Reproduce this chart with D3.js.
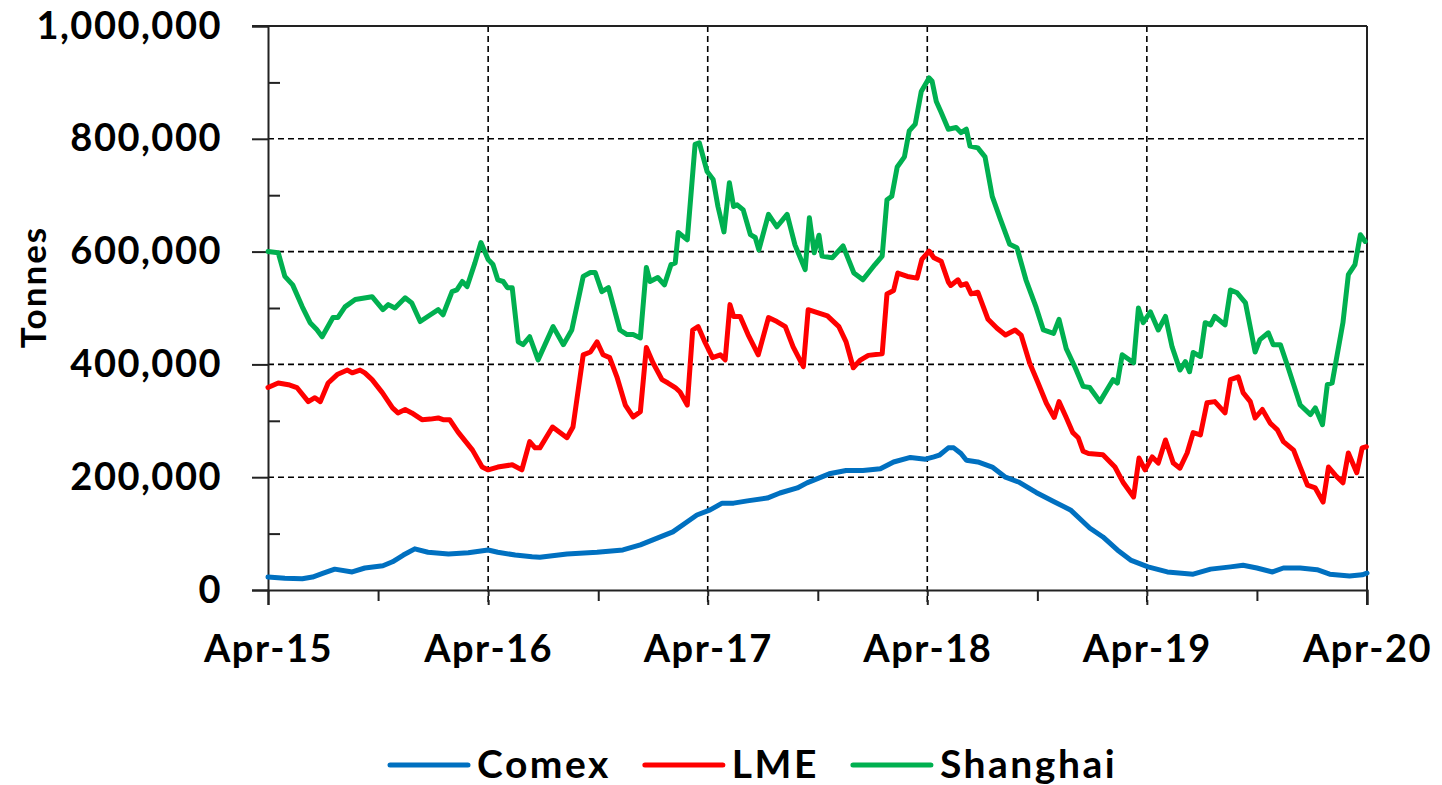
<!DOCTYPE html>
<html>
<head>
  <meta charset="utf-8">
  <title>Copper stocks - Comex, LME, Shanghai</title>
  <script src="https://d3js.org/d3.v7.min.js"></script>
  <style>
    body { margin: 0; background: #fff; }
    text { font-family: Lato, "Open Sans", sans-serif; font-weight: bold; fill: #000; }
  </style>
</head>
<body>
  <script>
    // weekly positions counted from 1 Apr 2015, tonnes in thousands
    const startDate = new Date(2015, 3, 1);
    const endDate = new Date(2020, 3, 1);

    const comexWeek = [0, 4, 8.1, 10.5, 13.1, 15.9, 20, 23, 27.3, 29.5, 32.1, 34.9, 38, 42.8, 47.5, 52.3, 54.6, 58.7, 62.7, 64.6,
      71, 78.1, 84.3, 88.4, 92.4, 96.2, 99.5, 101.9, 105, 107.8, 110.5, 113.8, 118.5, 121.6, 125.7, 128,
      133.3, 137.3, 141.3, 145.4, 148.5, 152.5, 156.1, 158.2, 159.4, 161.5, 162.9, 164.6, 165.8, 168.6, 172, 175.1,
      178.4, 182.4, 186.5, 190.5, 193.6, 195.2, 198.3, 201.7, 204.8, 209, 213.5, 219.7, 223.8, 228.5, 231.6, 234.9,
      238.5, 241.1, 245.1, 249.1, 252.2, 256.9, 259.8, 261];
    const comexK = [23, 21, 20, 23, 30, 37, 32, 39, 43, 50, 62, 73, 67, 64, 66, 71, 67, 62, 59, 58,
      64, 67, 71, 80, 92, 103, 121, 133, 142, 154, 154, 158, 163, 172, 181, 190,
      206, 212, 212, 215, 227, 235, 232, 236, 239, 252, 252, 242, 230, 227, 218, 200,
      191, 173, 157, 142, 121, 110, 94, 71, 53, 41, 32, 28, 37, 41, 44, 39,
      32, 39, 39, 36, 28, 25, 27, 30];

    const lmeWeek = [0, 2.4, 4.8, 6.9, 9.5, 11.2, 12.4, 14.3, 16.4, 18.8, 20, 21.9, 23, 24.7, 27.1, 29.5, 30.9, 32.5, 34.2, 36.6,
      38.5, 40.4, 41.6, 43.2, 45.1, 48.5, 50.8, 52.3, 54.6, 58, 60.3, 62.2, 63.4, 64.6, 67.5, 71, 72.4, 74.8,
      76.5, 78.1, 79.6, 81.2, 82.9, 84.8, 86.7, 88.4, 89.8, 91.4, 93.6, 95, 96.7, 97.9, 99.5, 100.9, 102.1, 103.8,
      105.5, 107.4, 108.6, 109.7, 110.5, 112.1, 114, 116.4, 118.8, 120.9, 122.8, 124.7, 127.1, 128.3, 132.8, 135.6,
      137.3, 139, 140.6, 142.5, 145.8, 147, 148.5, 149.6, 151.8, 154.2, 155.3, 157, 158.2, 159.9, 161.5, 162.2,
      163.9, 164.6, 165.8, 167, 168.6, 171, 173.2, 175.1, 177.4, 178.9, 180.8, 182.7, 184.8, 186.7, 187.9, 189.5,
      191.2, 192.4, 193.6, 194.8, 198.3, 201.2, 203.1, 205.5, 206.9, 208.3, 210, 211.4, 213.1, 215, 216.6, 218.3,
      219.7, 221.4, 223, 224.9, 227.3, 228.5, 230.4, 231.6, 233.3, 234.4, 236.1, 238, 239.7, 241.1, 243.5, 245.1,
      246.8, 248.7, 250.6, 251.8, 253.4, 255.3, 256.5, 258.6, 259.8, 260.8];
    const lmeK = [359, 367, 364, 359, 334, 341, 334, 367, 382, 390, 385, 390, 385, 373, 350, 323, 314, 320, 314, 302,
      303, 305, 302, 302, 280, 248, 218, 213, 218, 222, 213, 263, 252, 252, 289, 270, 289, 417,
      422, 440, 417, 412, 378, 328, 307, 316, 430, 403, 373, 367, 359, 351, 328, 461, 467, 438,
      412, 417, 408, 506, 485, 485, 453, 417, 483, 476, 467, 431, 396, 497, 486, 467,
      440, 394, 407, 416, 419, 525, 531, 562, 556, 553, 586, 601, 589, 583, 546, 540,
      550, 540, 543, 525, 528, 480, 464, 452, 461, 452, 403, 370, 331, 306, 334, 306,
      279, 270, 246, 242, 240, 218, 190, 165, 234, 213, 236, 225, 266, 225, 216, 243,
      279, 275, 332, 334, 314, 373, 378, 350, 334, 305, 320, 296, 284, 263, 248, 218,
      186, 181, 156, 218, 204, 190, 243, 208, 252, 254];

    const shanghaiWeek = [0, 2.4, 4, 5.9, 8.1, 10, 11.6, 12.8, 15.4, 16.6, 18.3, 20.7, 24.7, 27.3, 28.5, 30.2, 32.5, 34.2, 36.1,
      38.5, 40.4, 41.6, 43.7, 44.9, 46.1, 47.3, 49.2, 50.6, 52.3, 53.4, 54.6, 55.8, 56.8, 58, 59.4, 60.6, 62.2, 64.1,
      67.7, 70.1, 72.2, 74.8, 76.5, 77.7, 79.3, 80.8, 83.6, 85.3, 86.7, 88.4, 89.8, 90.7, 92.6, 94.1, 95.7, 96.7,
      97.4, 98.6, 99.5, 101.4, 102.4, 104.3, 105.7, 106.9, 108.3, 109.5, 110.5, 111.4, 112.8, 114.5, 115.7, 116.6,
      118.8, 120.9, 123.3, 125.2, 127.6, 128.5, 129.7, 130.9, 131.6, 134, 136.6, 139.2, 141.3, 144.2, 145.8, 147,
      148.2, 149.4, 151.1, 152.3, 153.7, 155.1, 157, 157.7, 158.7, 159.9, 161.5, 163.4, 164.6, 165.8, 166.7, 168.6,
      170.3, 172, 173.9, 176.2, 177.9, 180, 182.4, 184.1, 186.5, 187.9, 189.5, 191.7, 193.6, 195.2, 197.6, 199.5,
      200.7, 201.7, 202.9, 205.5, 206.7, 207.8, 209.5, 211.4, 213.1, 214.7, 216.6, 217.8, 218.8, 219.7, 221.4, 222.6,
      223.8, 224.9, 227.3, 228.5, 230.2, 232.1, 234.4, 235.6, 237.5, 238.7, 240.4, 242.3, 245.1, 247.5, 248.7, 250.4,
      251.5, 252.7, 255.3, 256.5, 258.2, 259.4, 260.6];
    const shanghaiK = [600, 598, 556, 541, 502, 474, 462, 449, 483, 483, 502, 515, 520, 497, 506, 500, 518, 509, 476,
      488, 497, 488, 529, 532, 547, 538, 580, 616, 586, 577, 550, 547, 536, 536, 440, 435, 449, 408,
      467, 435, 461, 556, 563, 563, 529, 536, 461, 453, 453, 447, 572, 547, 554, 541, 577, 580,
      634, 627, 621, 790, 793, 742, 728, 680, 635, 722, 680, 683, 674, 630, 625, 603,
      666, 644, 666, 612, 568, 660, 598, 629, 592, 589, 610, 562, 550, 577, 592, 692,
      698, 750, 768, 814, 826, 884, 908, 902, 866, 847, 817, 820, 811, 817, 787, 784,
      768, 698, 659, 613, 607, 550, 501, 461, 455, 480, 428, 394, 361, 359, 334, 359,
      373, 367, 417, 403, 500, 474, 493, 461, 485, 431, 390, 405, 387, 421, 414, 474,
      470, 485, 470, 532, 527, 509, 422, 444, 456, 435, 435, 394, 328, 311, 323, 293,
      364, 367, 474, 559, 577, 630, 618];

    const seriesNames = ["Comex", "LME", "Shanghai"];
    const seriesColors = ["#0070C0", "#FF0000", "#00B050"];
    const yTicks = [0, 200000, 400000, 600000, 800000, 1000000];
    const yMinorTicks = [100000, 300000, 500000, 700000, 900000];
    const xTickLabels = ["Apr-15", "Apr-16", "Apr-17", "Apr-18", "Apr-19", "Apr-20"];

    const W = 1442, H = 785;
    const plotL = 268, plotR = 1367, plotT = 26, plotB = 590;

    const svg = d3.select("body").append("svg")
      .attr("width", W)
      .attr("height", H);

    const x = d3.scaleTime().domain([startDate, endDate]).range([plotL, plotR]);
    const y = d3.scaleLinear().domain([0, 1000000]).range([plotB, plotT]);

    const toDate = w => d3.timeDay.offset(startDate, Math.round(w * 7));
    const build = (weeks, vals) => weeks.map((w, i) => ({ date: toDate(w), value: vals[i] * 1000 }));
    const series = [build(comexWeek, comexK), build(lmeWeek, lmeK), build(shanghaiWeek, shanghaiK)];

    const yearTicks = xTickLabels.map((d, i) => d3.timeMonth.offset(startDate, 12 * i));
    const halfTicks = d3.range(5).map(i => d3.timeMonth.offset(startDate, 12 * i + 6));

    // grid
    svg.append("g").selectAll("line")
      .data(yTicks.slice(1, -1))
      .join("line")
      .attr("x1", plotL).attr("x2", plotR)
      .attr("y1", d => y(d)).attr("y2", d => y(d))
      .attr("stroke", "#000").attr("stroke-width", 1.6)
      .attr("stroke-dasharray", "6,4");

    svg.append("g").selectAll("line")
      .data(yearTicks.slice(1, -1))
      .join("line")
      .attr("x1", d => x(d)).attr("x2", d => x(d))
      .attr("y1", plotT).attr("y2", plotB + 15)
      .attr("stroke", "#000").attr("stroke-width", 1.6)
      .attr("stroke-dasharray", "6,4");

    // frame top/right
    svg.append("line").attr("x1", plotL - 16).attr("x2", plotR).attr("y1", plotT).attr("y2", plotT)
      .attr("stroke", "#222").attr("stroke-width", 2);
    svg.append("line").attr("x1", plotR).attr("x2", plotR).attr("y1", plotT).attr("y2", plotB + 15)
      .attr("stroke", "#222").attr("stroke-width", 2);

    // y axis
    const yAxis = d3.axisLeft(y)
      .tickValues(yTicks)
      .tickFormat(d3.format(","))
      .tickSize(16)
      .tickPadding(30);
    const gy = svg.append("g").attr("transform", `translate(${plotL},0)`).call(yAxis);
    gy.attr("font-family", null).attr("font-size", null);
    gy.select(".domain").attr("stroke", "#222").attr("stroke-width", 2);
    gy.selectAll(".tick line").attr("stroke", "#222").attr("stroke-width", 2);
    gy.selectAll(".tick text")
      .style("font-size", "38px").style("letter-spacing", "1.5px");

    svg.append("g").attr("transform", `translate(${plotL},0)`)
      .call(d3.axisRight(y).tickValues(yMinorTicks).tickSize(12).tickFormat(""))
      .call(g => g.select(".domain").remove())
      .selectAll(".tick line").attr("stroke", "#222").attr("stroke-width", 2);

    // x axis
    const xAxis = d3.axisBottom(x)
      .tickValues(yearTicks)
      .tickFormat((d, i) => xTickLabels[i])
      .tickSize(15)
      .tickPadding(30);
    const gx = svg.append("g").attr("transform", `translate(0,${plotB})`).call(xAxis);
    gx.attr("font-family", null).attr("font-size", null);
    gx.select(".domain").attr("stroke", "#222").attr("stroke-width", 2);
    gx.selectAll(".tick line").attr("stroke", "#222").attr("stroke-width", 2)
      .attr("stroke-dasharray", (d, i) => (i > 0 && i < 5) ? "6,4" : null);
    gx.selectAll(".tick text")
      .style("font-size", "38px").style("letter-spacing", "1.5px");

    svg.append("g").attr("transform", `translate(0,${plotB})`)
      .call(d3.axisBottom(x).tickValues(halfTicks).tickSize(11).tickFormat(""))
      .call(g => g.select(".domain").remove())
      .selectAll(".tick line").attr("stroke", "#222").attr("stroke-width", 2);

    // y title
    svg.append("text")
      .attr("transform", `translate(46,${(plotT + plotB) / 2 - 21}) rotate(-90)`)
      .attr("text-anchor", "middle")
      .style("font-size", "35px").style("letter-spacing", "2px")
      .text("Tonnes");

    // lines
    const line = d3.line()
      .x(d => x(d.date))
      .y(d => y(d.value));

    svg.append("g").selectAll("path")
      .data(series)
      .join("path")
      .attr("d", line)
      .attr("fill", "none")
      .attr("stroke", (d, i) => seriesColors[i])
      .attr("stroke-width", 5)
      .attr("stroke-linejoin", "round")
      .attr("stroke-linecap", "round");

    // legend
    const legend = svg.append("g");
    let cx = 390;
    seriesNames.forEach((name, i) => {
      legend.append("line")
        .attr("x1", cx).attr("x2", cx + 78)
        .attr("y1", 765).attr("y2", 765)
        .attr("stroke", seriesColors[i]).attr("stroke-width", 5)
        .attr("stroke-linecap", "round");
      const t = legend.append("text")
        .attr("x", cx + 87).attr("y", 778)
        .style("font-size", "39px").style("letter-spacing", "2.5px")
        .text(name);
      cx += 87 + t.node().getComputedTextLength() + 34;
    });
  </script>
</body>
</html>
